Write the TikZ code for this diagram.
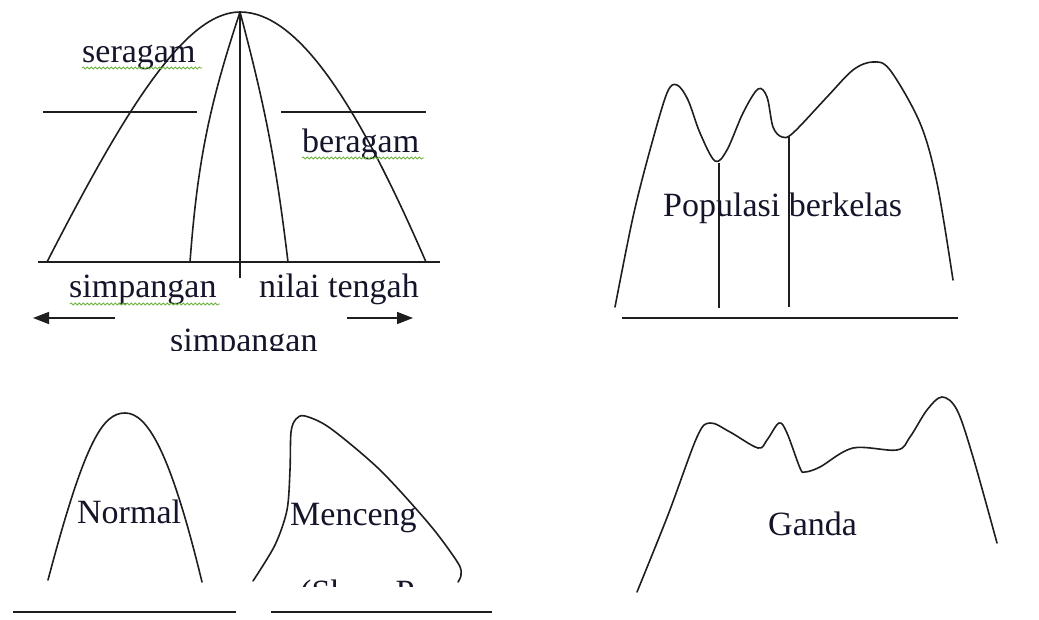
\documentclass[tikz,border=0pt]{standalone}
\usepackage{fontspec}
\setmainfont{Liberation Serif}
\usetikzlibrary{arrows.meta, decorations.pathmorphing}
\definecolor{tinta}{HTML}{1E1E1E}
\definecolor{teksbiru}{HTML}{14142A}
\definecolor{ejaan}{HTML}{6DB33F}
\tikzset{
  garis/.style={line width=1.6pt, color=tinta},
  kurva/.style={line width=1.6pt, color=tinta, line join=round, line cap=round},
  teks/.style={font=\fontsize{34}{40}\selectfont, inner sep=0pt, anchor=base west, text=teksbiru},
  panah/.style={line width=1.6pt, color=tinta, -{Triangle[length=16pt,width=12pt]}},
  ejaanline/.style={ejaan, line width=0.8pt, decorate,
                    decoration={snake, amplitude=1.1pt, segment length=4pt}}
}

\begin{document}
\begin{tikzpicture}[x=1pt, y=-1pt]
  \useasboundingbox (0,0) rectangle (1039,620);

  % kurva seragam / beragam
  \coordinate (puncak) at (240,12);
  \coordinate (kaki kiri) at (47,262);
  \coordinate (kaki kanan) at (426,262);
  \coordinate (dalam kiri) at (190,262);
  \coordinate (dalam kanan) at (288,262);
  \coordinate (tengah) at (240,278);
  \draw [kurva] (kaki kiri) .. controls (125,110) and (185,12) .. (puncak)
                .. controls (300,12) and (360,110) .. (kaki kanan);
  \draw [kurva] (puncak) to[bend right=7] (dalam kiri);
  \draw [kurva] (puncak) to[bend left=4] (dalam kanan);
  \draw [garis] (puncak) -- (tengah);
  \coordinate (dasar1a) at (38,262);  \coordinate (dasar1b) at (440,262);
  \draw [garis] (dasar1a) -- (dasar1b);
  \coordinate (hk1) at (43,112);  \coordinate (hk2) at (197,112);
  \coordinate (hn1) at (281,112); \coordinate (hn2) at (426,112);
  \draw [garis] (hk1) -- (hk2);
  \draw [garis] (hn1) -- (hn2);

  \node (seragam) [teks] at (82,63) {seragam};
  \node (beragam) [teks] at (302,153) {beragam};
  \node (simpangan1) [teks] at (69,298) {simpangan};
  \node (nilaitengah) [teks] at (259,298) {nilai tengah};
  \draw [ejaanline] (seragam.base west) ++(0,5) -- ++(120,0);
  \draw [ejaanline] (beragam.base west) ++(0,5) -- ++(122,0);
  \draw [ejaanline] (simpangan1.base west) ++(1,6) -- ++(150,0);

  \coordinate (pk1) at (115,318); \coordinate (pk2) at (33,318);
  \coordinate (pn1) at (347,318); \coordinate (pn2) at (413,318);
  \draw [panah] (pk1) -- (pk2);
  \draw [panah] (pn1) -- (pn2);
  \begin{scope}
    \clip (150,322) rectangle (360,351);
    \node (simpangan2) [teks] at (170,352) {simpangan};
  \end{scope}

  % populasi berkelas
  \draw [kurva] plot[smooth, tension=0.55] coordinates {
    (615,307) (633,217) (650,150) (667,93) (677,85) (688,100) (700,133)
    (715,161) (727,150) (743,113) (758,89) (767,97) (773,127) (782,137)
    (793,133) (827,97) (853,70) (873,62) (890,70) (920,123) (937,183) (953,280)};
  \coordinate (batas1a) at (719,163); \coordinate (batas1b) at (719,308);
  \coordinate (batas2a) at (789,137); \coordinate (batas2b) at (789,307);
  \draw [garis] (batas1a) -- (batas1b);
  \draw [garis] (batas2a) -- (batas2b);
  \coordinate (dasar2a) at (622,318); \coordinate (dasar2b) at (958,318);
  \draw [garis] (dasar2a) -- (dasar2b);
  \node (populasi) [teks] at (663,217) {Populasi berkelas};

  % normal
  \coordinate (normal kiri) at (48,580);
  \coordinate (normal puncak) at (125,413);
  \coordinate (normal kanan) at (202,582);
  \draw [kurva] (normal kiri) .. controls (85,440) and (103,413) .. (normal puncak)
                .. controls (147,413) and (170,450) .. (normal kanan);
  \coordinate (dasar3a) at (13,612); \coordinate (dasar3b) at (236,612);
  \draw [garis] (dasar3a) -- (dasar3b);
  \node (normal) [teks] at (77,523) {Normal};

  % menceng
  \draw [kurva] plot[smooth, tension=0.5] coordinates {
    (253,581) (275,545) (287,510) (290,470) (291,432) (296,419) (305,416)
    (330,428) (380,470) (430,525) (458,563) (461,575) (458,582)};
  \coordinate (dasar4a) at (271,612); \coordinate (dasar4b) at (492,612);
  \draw [garis] (dasar4a) -- (dasar4b);
  \node (menceng) [teks] at (290,525) {Menceng};
  \begin{scope}
    \clip (290,575) rectangle (430,586.5);
    \node (skew) [teks] at (300,603) {(Skew Positif)};
  \end{scope}

  % ganda
  \draw [kurva] plot[smooth, tension=0.55] coordinates {
    (637,592) (668,515) (697,437) (710,423) (730,432) (758,448) (767,440)
    (779,423) (787,433) (800,468) (805,472) (820,467) (853,448) (897,450)
    (910,437) (927,410) (942,397) (957,410) (973,457) (997,543)};
  \node (ganda) [teks] at (768,535) {Ganda};
\end{tikzpicture}
\end{document}
